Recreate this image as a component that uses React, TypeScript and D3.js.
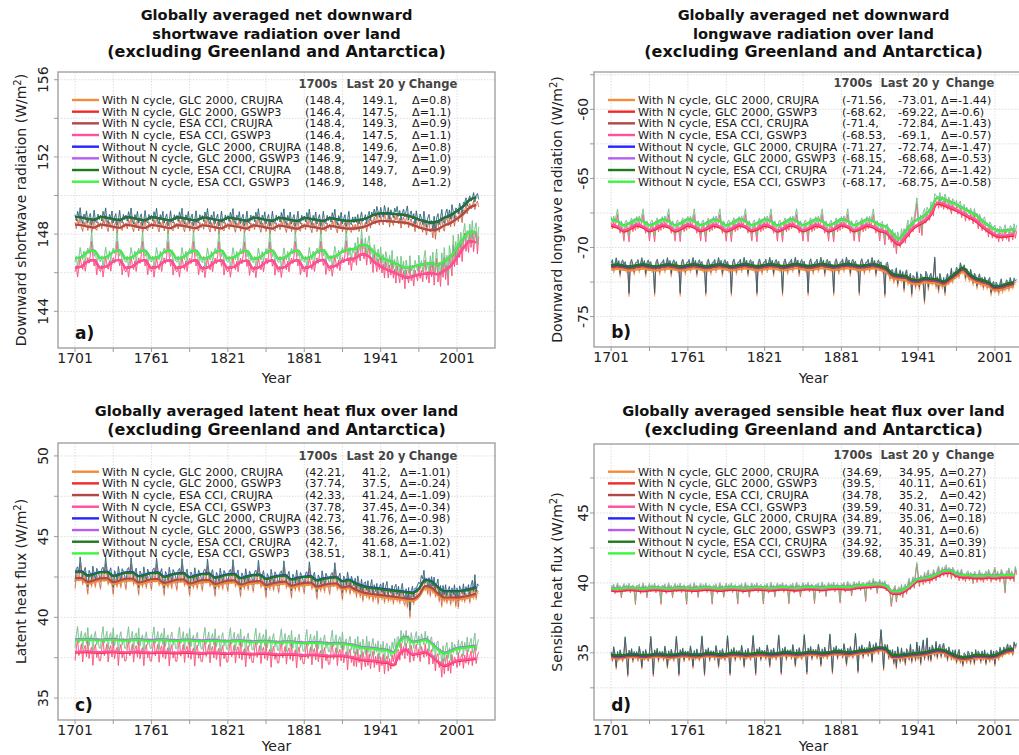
import React from "react";
import * as d3 from "d3";

const W = 1019;
const H = 755;
const FONT = "DejaVu Sans, Liberation Sans, sans-serif";

const runNames = [
  "With N cycle, GLC 2000, CRUJRA",
  "With N cycle, GLC 2000, GSWP3",
  "With N cycle, ESA CCI, CRUJRA",
  "With N cycle, ESA CCI, GSWP3",
  "Without N cycle, GLC 2000, CRUJRA",
  "Without N cycle, GLC 2000, GSWP3",
  "Without N cycle, ESA CCI, CRUJRA",
  "Without N cycle, ESA CCI, GSWP3",
];
const runColors = ["#f28c38", "#ee2a2a", "#b04848", "#ff4f9e", "#2424ff", "#b45ff0", "#1f7a1f", "#3cf53c"];

// Smoothed curves are given every 5 years; annual values span 1701-2018.
const knotYears = d3.range(1701, 2017, 5);
const years = d3.range(1701, 2019);

// ---------- a) net downward shortwave ----------
const swStart = ["148.4", "146.4", "148.4", "146.4", "148.8", "146.9", "148.8", "146.9"];
const swLast20 = ["149.1", "147.5", "149.3", "147.5", "149.6", "147.9", "149.7", "148"];
const swChange = ["0.8", "1.1", "0.9", "1.1", "0.8", "1.0", "0.9", "1.2"];
const swCruTrend = [
  148.90, 148.86, 148.79, 148.74, 148.89, 148.85, 148.78, 148.73, 148.88, 148.84, 148.77, 148.72,
  148.88, 148.83, 148.77, 148.71, 148.87, 148.83, 148.76, 148.71, 148.86, 148.82, 148.75, 148.70,
  148.86, 148.81, 148.75, 148.69, 148.85, 148.81, 148.74, 148.69, 148.84, 148.80, 148.73, 148.68,
  148.84, 148.79, 148.73, 148.68,
  148.83, 148.78, 148.72, 148.68, 148.70, 148.75, 148.85, 149.00, 149.08, 149.08, 149.05, 149.02,
  148.98, 148.88, 148.76, 148.66, 148.60, 148.66, 148.85, 148.98, 149.20, 149.45, 149.78, 149.90,
];
const swGswTrend = [
  146.75, 146.82, 147.08, 147.15, 146.76, 146.83, 147.08, 147.16, 146.74, 146.82, 147.07, 147.15,
  146.75, 146.81, 147.07, 147.14, 146.74, 146.82, 147.06, 147.15, 146.73, 146.80, 147.06, 147.14,
  146.74, 146.81, 147.05, 147.13, 146.72, 146.80, 147.05, 147.14, 146.73, 146.80, 147.06, 147.15,
  146.74, 146.82, 147.07, 147.17,
  146.78, 146.88, 147.10, 147.20, 147.25, 147.45, 147.38, 147.05, 146.82, 146.66, 146.52, 146.38,
  146.25, 146.30, 146.40, 146.45, 146.48, 146.42, 146.60, 146.85, 147.30, 147.78, 148.12, 148.08,
];
// Spin-up years recycle the 1901-1920 climate, so annual departures repeat every 20 years.
const swCruCycle = [0.1, -0.2, 0.3, 0.0, 0.5, -0.1, -0.3, 0.2, 0.0, 0.4, -0.2, 0.1, 0.3, -0.3, 0.0, 0.5, -0.1, -0.2, 0.2, -0.1];
const swGswCycle = [-0.2, 0.1, -0.5, 0.0, 0.5, 0.1, -0.2, 0.2, -0.4, 0.0, 0.2, -0.1, 0.3, 1.0, 0.2, -0.3, 0.1, -0.6, 0.0, -0.2];
const swCruRecent = [
  0.2, -0.1, 0.3, -0.2, 0.1, 0.4, -0.1, 0.0, 0.2, -0.3,
  0.1, 0.3, -0.2, 0.2, 0.0, 0.3, -0.1, 0.4, 0.1, -0.2,
  0.3, 0.0, -0.2, 0.4, 0.1, -0.1, 0.3, -0.3, 0.2, 0.0,
  -0.2, 0.3, 0.1, 0.4, -0.1, 0.2, -0.3, 0.1, 0.3, -0.1,
  0.2, 0.5, -0.2, 0.1, 0.3, -0.1, 0.2, -0.3, 0.4, 0.0,
  -0.1, 0.3, 0.1, -0.2, 0.5, 0.0, -0.3, 0.2, 0.4, -0.1,
  0.1, -0.4, 0.3, -0.5, 0.2, 0.4, -0.2, 0.1, 0.5, -0.1,
  -0.3, 0.2, 0.4, -0.1, 0.3, -0.2, 0.5, 0.1, -0.3, 0.2,
  0.1, -0.2, 0.3, 0.0, -0.4, 0.2, 0.1, 0.3, -0.2, 0.1,
  0.2, -0.1, 0.0, 0.3, -0.2, 0.1, 0.2, -0.1,
];
const swGswRecent = [
  0.3, -0.4, 0.5, 0.0, -0.3, 0.8, 0.1, -0.2, 0.4, -0.5,
  0.2, 0.6, -0.3, 0.1, -0.6, 0.4, 0.0, -0.4, 0.3, -0.2,
  0.5, -0.3, 0.2, -0.5, 0.4, 0.1, -0.4, 0.3, -0.2, 0.6,
  -0.3, 0.2, -0.5, 0.4, 0.0, -0.4, 0.5, -0.2, 0.3, -0.6,
  0.4, 0.0, -0.3, 0.6, -0.2, 0.1, -0.5, 0.3, 0.0, -0.3,
  0.5, -0.2, 0.2, -0.4, 0.3, 0.7, -0.3, 0.1, -0.5, 0.4,
  -0.2, 0.6, -0.6, 0.2, 0.8, -0.4, 0.1, -0.7, 0.5, -0.3,
  0.7, -0.5, 0.2, -0.9, 0.6, 0.1, -0.6, 0.9, -0.3, 0.4,
  -0.4, 0.6, -0.2, 0.5, -0.6, 0.3, 0.7, -0.3, 0.2, -0.5,
  0.4, -0.3, 0.6, -0.5, 0.2, 0.5, -0.6, 0.3,
];

// ---------- b) net downward longwave ----------
const lwStart = ["-71.56", "-68.62", "-71.4", "-68.53", "-71.27", "-68.15", "-71.24", "-68.17"];
const lwLast20 = ["-73.01", "-69.22", "-72.84", "-69.1", "-72.74", "-68.68", "-72.66", "-68.75"];
const lwChange = ["-1.44", "-0.6", "-1.43", "-0.57", "-1.47", "-0.53", "-1.42", "-0.58"];
const lwCruTrend = [
  -71.28, -71.22, -71.30, -71.36, -71.27, -71.21, -71.30, -71.35, -71.27, -71.21, -71.29, -71.35,
  -71.26, -71.20, -71.29, -71.34, -71.26, -71.20, -71.28, -71.34, -71.25, -71.19, -71.28, -71.33,
  -71.25, -71.19, -71.27, -71.33, -71.24, -71.18, -71.27, -71.32, -71.24, -71.18, -71.26, -71.32,
  -71.23, -71.17, -71.26, -71.31,
  -71.25, -71.20, -71.30, -71.45, -71.90, -72.00, -72.05, -72.30, -72.35, -72.20, -72.25, -72.30,
  -72.45, -72.15, -71.80, -71.45, -71.90, -72.20, -72.35, -72.50, -72.80, -72.75, -72.60, -72.50,
];
const lwGswTrend = [
  -67.98, -68.12, -68.40, -68.22, -67.97, -68.12, -68.39, -68.22, -67.98, -68.11, -68.40, -68.21,
  -67.97, -68.12, -68.39, -68.22, -67.98, -68.12, -68.40, -68.21, -67.97, -68.11, -68.39, -68.22,
  -67.98, -68.12, -68.40, -68.22, -67.97, -68.11, -68.39, -68.21, -67.98, -68.12, -68.40, -68.22,
  -67.97, -68.11, -68.39, -68.22,
  -67.98, -68.12, -68.38, -68.50, -69.00, -69.35, -68.85, -68.30, -67.95, -67.70, -67.20, -66.40,
  -66.50, -66.70, -66.90, -67.15, -67.40, -67.65, -68.05, -68.40, -68.70, -68.80, -68.75, -68.70,
];
const lwCruCycle = [0.2, 0.4, -0.3, 0.1, 0.5, 0.0, 0.3, -0.6, 0.2, 0.4, 0.1, 0.3, -0.2, 0.0, -1.9, 0.3, 0.5, 0.1, -0.4, 0.2];
const lwGswCycle = [0.2, -0.2, 0.3, 0.0, 0.4, 0.9, 0.1, -0.3, 0.2, -0.1, -0.7, 0.2, 0.3, -0.2, -0.9, 0.1, 0.3, -0.3, 0.0, -0.3];
const lwCruRecent = [
  0.3, -0.4, 0.2, 0.5, -0.6, 0.1, 0.4, -0.2, 0.3, -0.9,
  0.2, 0.5, -0.3, 0.1, 0.4, -1.0, 0.3, 0.2, -0.4, 0.6,
  0.1, -0.5, 0.4, 0.2, -0.3, -1.6, 0.5, 0.3, -0.6, 0.2,
  0.4, -0.2, 0.3, 1.6, -0.4, 0.2, -0.7, 0.5, 0.1, -0.3,
  0.3, -0.8, 0.2, 0.4, -0.2, 0.1, 0.6, -0.3, 0.2, 0.0,
  0.4, 0.2, -0.3, 0.5, 0.1, -0.2, 0.3, -0.5, 0.2, 0.1,
  -0.3, 0.4, 0.1, -0.4, 0.3, 0.2, -0.5, 0.1, 0.4, -0.2,
  0.2, -0.4, 0.3, 0.1, -0.3, 0.2, 0.4, -0.6, 0.1, 0.3,
  -0.2, 0.3, 0.1, -0.4, 0.2, 0.5, -0.3, 0.1, -0.2, 0.3,
  0.2, -0.3, 0.4, 0.0, -0.2, 0.3, 0.1, 0.2,
];
const lwGswRecent = [
  0.3, -0.5, 0.2, -0.8, 0.4, 0.1, -0.3, 0.5, -0.2, 0.3,
  -0.4, 0.2, 0.6, -0.3, 0.1, 0.5, -0.2, 0.4, 0.9, 1.6,
  0.4, -0.6, 0.2, -0.9, 0.3, 0.5, -0.2, 0.4, 0.1, -0.3,
  0.5, 0.2, -0.4, 0.6, 0.3, 0.1, -0.3, 0.4, -0.2, 0.2,
  -0.3, 0.4, 0.1, -0.2, 0.3, 0.0, -0.4, 0.3, 0.2, -0.1,
  0.3, -0.2, 0.2, 0.4, -0.3, 0.1, 0.3, -0.4, 0.2, 0.0,
  -0.2, 0.3, 0.1, -0.3, 0.4, -0.1, 0.2, -0.4, 0.3, 0.1,
  -0.3, 0.2, 0.4, -0.2, 0.1, -0.4, 0.3, 0.2, -0.3, 0.1,
  0.3, -0.2, 0.1, -0.4, 0.3, 0.2, -0.3, 0.1, 0.4, -0.2,
  0.1, -0.4, 0.3, 0.2, -0.3, 0.4, -0.2, 0.3,
];

// ---------- c) latent heat flux ----------
const leStart = ["42.21", "37.74", "42.33", "37.78", "42.73", "38.56", "42.7", "38.51"];
const leLast20 = ["41.2", "37.5", "41.24", "37.45", "41.76", "38.26", "41.68", "38.1"];
const leChange = ["-1.01", "-0.24", "-1.09", "-0.34", "-0.98", "-0.3", "-1.02", "-0.41"];
const leCruTrend = [
  42.80, 42.82, 42.57, 42.67, 42.78, 42.80, 42.55, 42.65, 42.76, 42.77, 42.53, 42.62,
  42.73, 42.75, 42.50, 42.60, 42.70, 42.72, 42.47, 42.57, 42.67, 42.69, 42.44, 42.54,
  42.64, 42.66, 42.41, 42.51, 42.60, 42.62, 42.37, 42.47, 42.55, 42.58, 42.33, 42.43,
  42.50, 42.52, 42.28, 42.38,
  42.45, 42.47, 42.22, 42.30, 42.10, 41.95, 41.85, 41.80, 41.75, 41.70, 41.65, 41.60,
  41.55, 41.50, 41.75, 42.30, 42.20, 41.85, 41.60, 41.60, 41.60, 41.65, 41.72, 41.85,
];
const leGswTrend = [
  38.58, 38.60, 38.62, 38.58, 38.57, 38.60, 38.61, 38.57, 38.56, 38.59, 38.60, 38.56,
  38.55, 38.58, 38.59, 38.55, 38.54, 38.57, 38.57, 38.53, 38.52, 38.55, 38.55, 38.51,
  38.50, 38.53, 38.53, 38.49, 38.47, 38.50, 38.50, 38.46, 38.43, 38.46, 38.46, 38.42,
  38.39, 38.42, 38.42, 38.38,
  38.35, 38.37, 38.36, 38.30, 38.22, 38.12, 38.08, 38.05, 37.98, 37.95, 37.80, 38.50,
  38.75, 38.45, 38.50, 38.60, 38.35, 38.00, 37.75, 37.90, 38.05, 38.10, 38.15, 38.20,
];
const leCruCycle = [-0.6, 0.2, 0.3, -0.1, 0.9, 0.2, -0.3, 0.1, 0.4, -0.2, -0.7, 0.3, 0.1, -0.3, 0.5, 0.0, -0.4, 0.3, 0.1, -0.2];
const leGswCycle = [-0.5, 0.3, 0.8, -0.2, 0.1, 0.5, -0.6, 0.2, 0.4, -0.3, 0.7, -0.4, 0.1, 0.3, -0.8, 0.2, 0.5, -0.3, 0.1, -0.5];
const leCruRecent = [
  0.3, -0.4, 0.5, 0.1, -0.3, 0.4, -0.5, 0.2, 0.3, -0.2,
  0.4, -0.3, 0.1, 0.5, -0.4, 0.2, -0.2, 0.3, -0.5, 0.1,
  0.3, -0.2, 0.4, -0.4, 0.2, 0.5, -0.3, 0.1, -0.2, 0.3,
  -0.4, 0.2, 0.4, -0.2, 0.3, -0.3, 0.1, 0.5, -0.2, -0.4,
  0.2, -0.5, 0.3, -1.1, 0.1, 0.4, -0.3, 0.2, 0.1, 0.3,
  0.4, 0.2, 0.6, 0.3, 0.7, -0.2, 0.1, -0.4, 0.2, -0.5,
  0.3, -0.2, 0.4, -0.3, 0.1, 0.5, -0.4, 0.2, -0.6, 0.3,
  -0.2, 0.4, -0.3, 0.1, 0.3, -0.4, 0.2, -0.2, 0.4, -0.5,
  0.2, -0.6, 0.3, 0.1, -0.2, 0.4, -0.3, 0.2, -0.1, 0.3,
  -0.4, 0.2, 0.5, -0.2, 0.8, -0.3, 0.2, 0.1,
];
const leGswRecent = [
  0.4, -0.5, 0.6, -0.2, 0.3, -0.6, 0.5, 0.1, -0.4, 0.7,
  -0.3, 0.4, -0.5, 0.2, 0.6, -0.4, 0.3, -0.2, 0.5, -0.6,
  0.3, -0.2, 0.5, -0.7, 0.2, 0.4, -0.5, 0.3, -0.3, 0.6,
  0.2, 0.7, -0.3, 0.5, 0.4, -0.4, 0.6, -0.2, 0.3, -0.5,
  0.4, -0.3, 0.2, -0.6, 0.5, 0.1, -0.4, 0.3, 0.6, -0.2,
  0.3, -0.5, 0.4, 0.1, -0.3, 0.5, -0.2, 0.3, -0.6, 0.2,
  0.4, -0.4, 0.2, -0.7, 0.3, 0.5, -0.3, 0.1, -0.8, 0.4,
  -0.5, 0.3, 0.6, -0.4, 0.2, -0.6, 0.5, -0.2, 0.3, 0.1,
  -0.4, 0.5, -0.3, 0.2, 0.4, -0.5, 0.3, -0.2, 0.6, -0.3,
  0.2, 0.5, -0.4, 0.3, 0.8, -0.3, 0.2, 0.4,
];

// ---------- d) sensible heat flux ----------
const shStart = ["34.69", "39.5", "34.78", "39.59", "34.89", "39.71", "34.92", "39.68"];
const shLast20 = ["34.95", "40.11", "35.2", "40.31", "35.06", "40.31", "35.31", "40.49"];
const shChange = ["0.27", "0.61", "0.42", "0.72", "0.18", "0.6", "0.39", "0.81"];
const shCruTrend = [
  34.88, 34.82, 34.85, 34.92, 34.90, 34.84, 34.87, 34.94, 34.92, 34.86, 34.89, 34.96,
  34.94, 34.88, 34.91, 34.98, 34.96, 34.90, 34.93, 35.00, 34.98, 34.92, 34.95, 35.02,
  35.00, 34.94, 34.98, 35.05, 35.03, 34.97, 35.01, 35.08, 35.06, 35.00, 35.05, 35.12,
  35.10, 35.04, 35.10, 35.18,
  35.20, 35.30, 35.40, 35.30, 34.85, 34.85, 34.90, 34.95, 35.00, 35.05, 35.15, 35.25,
  35.20, 35.00, 34.80, 34.70, 34.75, 34.85, 34.85, 34.80, 34.85, 35.05, 35.25, 35.30,
];
const shGswTrend = [
  39.62, 39.58, 39.63, 39.66, 39.62, 39.58, 39.64, 39.66, 39.63, 39.59, 39.64, 39.67,
  39.63, 39.60, 39.65, 39.68, 39.64, 39.60, 39.66, 39.68, 39.65, 39.61, 39.67, 39.69,
  39.66, 39.62, 39.68, 39.70, 39.67, 39.63, 39.69, 39.72, 39.69, 39.65, 39.71, 39.74,
  39.73, 39.70, 39.77, 39.82,
  39.85, 39.90, 39.92, 39.80, 39.40, 39.40, 39.60, 39.95, 40.30, 40.35, 40.45, 40.65,
  40.85, 40.90, 40.65, 40.55, 40.55, 40.50, 40.50, 40.55, 40.50, 40.55, 40.55, 40.55,
];
const shCruCycle = [0.2, -0.3, 0.6, 0.1, -0.8, 0.3, -0.2, 0.4, 0.0, -0.3, 0.2, 1.3, 0.1, -1.4, 0.3, -0.1, 0.4, -0.4, 0.2, -0.1];
const shGswCycle = [0.2, 0.1, 0.3, -0.2, 0.1, 0.4, 0.0, 0.2, -0.5, 0.1, 0.3, -0.1, 0.2, 0.0, 0.3, -0.2, 0.1, 0.2, -0.1, -1.0];
const shCruRecent = [
  0.4, -0.5, 0.3, -0.8, 0.6, 0.1, -0.4, 0.5, -0.3, 0.2,
  -0.6, 0.4, 0.2, -0.3, 0.7, -0.5, 0.3, 0.1, -0.4, 0.8,
  -0.3, 0.5, -0.7, 0.3, 0.9, -0.4, 0.2, 1.0, -0.5, 0.3,
  -0.6, 0.4, 0.1, -0.3, 0.6, -0.5, 0.2, 0.4, -0.4, 0.3,
  0.5, -0.3, 0.2, -0.5, 0.4, 0.1, -0.3, 0.3, -0.2, 0.4,
  -0.4, 0.2, 0.5, -0.3, 0.1, -0.5, 0.3, 0.2, -0.3, 0.4,
  0.2, -0.4, 0.3, 0.1, -0.5, 0.4, -0.2, 0.3, 0.1, -0.4,
  0.3, -0.2, 0.4, -0.5, 0.2, 0.1, -0.3, 0.4, -0.2, 0.3,
  -0.6, 0.3, 0.2, -0.3, 0.4, 0.1, -0.2, 0.3, -0.1, 0.2,
  0.4, -0.2, 0.3, 0.1, -0.3, 0.5, 0.2, 0.4,
];
const shGswRecent = [
  -0.3, 0.2, 0.4, -0.6, 0.1, 0.3, -0.2, 0.4, -0.4, 0.2,
  0.3, -0.3, 0.2, 0.5, -0.2, 0.1, 0.4, -0.3, 0.6, 1.2,
  0.3, -0.4, 0.2, 0.1, -0.3, 0.4, -0.2, 0.3, 0.5, -0.3,
  0.2, -0.2, 0.4, 0.1, -0.3, 0.3, 0.5, -0.2, 0.1, 0.3,
  -0.2, 0.3, 0.4, -0.3, 0.2, 0.1, -0.4, 0.3, 0.2, -0.2,
  0.1, 0.3, -0.3, 0.2, 0.4, -0.2, 0.1, -0.3, 0.2, 0.3,
  -0.2, 0.2, 0.1, -0.4, 0.3, 0.2, -0.3, 0.1, 0.4, -0.2,
  0.2, -0.3, 0.1, 0.3, -0.2, 0.4, 0.2, -0.3, 0.1, 0.3,
  0.6, -0.2, 0.3, 0.1, -0.3, 0.4, 0.2, -0.2, -1.1, 0.3,
  0.2, 0.5, -0.2, 0.3, 0.1, -0.3, 0.6, 0.2,
];

type Cluster = { trend: number[]; cycle: number[]; recent: number[] };

type PanelSpec = {
  key: string;
  letter: string;
  title: string[];
  titleY: number;
  yLabel: string;
  left: number;
  right: number;
  top: number;
  bottom: number;
  xLabelY: number;
  yDomain: [number, number];
  gridStep: number;
  labelTicks: number[];
  tickLabelX: number;
  yLabelX: number;
  legend: { headerY: number; rowY: number; sampleX: number; cols: number[]; heads: number[] };
  cru: Cluster;
  gsw: Cluster;
  start: string[];
  last20: string[];
  change: string[];
};

const panels: PanelSpec[] = [
  {
    key: "sw", letter: "a)",
    title: ["Globally averaged net downward", "shortwave radiation over land", "(excluding Greenland and Antarctica)"],
    titleY: 20, yLabel: "Downward shortwave radiation",
    left: 58, right: 495, top: 72, bottom: 348, xLabelY: 383,
    yDomain: [142.1, 156.4], gridStep: 2, labelTicks: [144, 148, 152, 156],
    tickLabelX: 43, yLabelX: 21,
    legend: { headerY: 84, rowY: 100, sampleX: 72, cols: [305, 362, 412], heads: [318, 376, 433] },
    cru: { trend: swCruTrend, cycle: swCruCycle, recent: swCruRecent },
    gsw: { trend: swGswTrend, cycle: swGswCycle, recent: swGswRecent },
    start: swStart, last20: swLast20, change: swChange,
  },
  {
    key: "lw", letter: "b)",
    title: ["Globally averaged net downward", "longwave radiation over land", "(excluding Greenland and Antarctica)"],
    titleY: 20, yLabel: "Downward longwave radiation",
    left: 594, right: 1033, top: 72, bottom: 347, xLabelY: 383,
    yDomain: [-77.2, -57.3], gridStep: 2.5, labelTicks: [-75, -70, -65, -60],
    tickLabelX: 583, yLabelX: 557,
    legend: { headerY: 83, rowY: 100, sampleX: 608, cols: [842, 898, 941], heads: [853, 910, 970] },
    cru: { trend: lwCruTrend, cycle: lwCruCycle, recent: lwCruRecent },
    gsw: { trend: lwGswTrend, cycle: lwGswCycle, recent: lwGswRecent },
    start: lwStart, last20: lwLast20, change: lwChange,
  },
  {
    key: "le", letter: "c)",
    title: ["Globally averaged latent heat flux over land", "(excluding Greenland and Antarctica)"],
    titleY: 416, yLabel: "Latent heat flux",
    left: 58, right: 495, top: 443, bottom: 720, xLabelY: 751,
    yDomain: [33.64, 50.8], gridStep: 2.5, labelTicks: [35, 40, 45, 50],
    tickLabelX: 43, yLabelX: 21,
    legend: { headerY: 456, rowY: 471.7, sampleX: 72, cols: [305, 362, 400], heads: [318, 376, 433] },
    cru: { trend: leCruTrend, cycle: leCruCycle, recent: leCruRecent },
    gsw: { trend: leGswTrend, cycle: leGswCycle, recent: leGswRecent },
    start: leStart, last20: leLast20, change: leChange,
  },
  {
    key: "sh", letter: "d)",
    title: ["Globally averaged sensible heat flux over land", "(excluding Greenland and Antarctica)"],
    titleY: 416, yLabel: "Sensible heat flux",
    left: 594, right: 1033, top: 444, bottom: 720, xLabelY: 751,
    yDomain: [30.2, 49.93], gridStep: 2.5, labelTicks: [35, 40, 45],
    tickLabelX: 583, yLabelX: 557,
    legend: { headerY: 455, rowY: 471.7, sampleX: 608, cols: [842, 899, 940], heads: [853, 910, 970] },
    cru: { trend: shCruTrend, cycle: shCruCycle, recent: shCruRecent },
    gsw: { trend: shGswTrend, cycle: shGswCycle, recent: shGswRecent },
    start: shStart, last20: shLast20, change: shChange,
  },
];

const ROW_STEP = 11.67;

function annualValues(cl: Cluster): number[] {
  const base = d3.scaleLinear<number, number>().domain(knotYears).range(cl.trend).clamp(true);
  return years.map((yr) => {
    const dep = yr <= 1920 ? cl.cycle[(yr - 1701) % 20] : cl.recent[yr - 1921];
    return base(yr) + dep;
  });
}

function Panel({ p }: { p: PanelSpec }) {
  const x = d3.scaleLinear().domain([1687.6, 2030.8]).range([p.left, p.right]);
  const y = d3.scaleLinear().domain(p.yDomain).range([p.bottom, p.top]);
  const cx = (p.left + p.right) / 2;
  const cy = (p.top + p.bottom) / 2;

  const gridYs = d3
    .range(Math.ceil(p.yDomain[0] / p.gridStep) * p.gridStep, p.yDomain[1], p.gridStep)
    .map((v) => Math.round(v * 100) / 100);
  const gridXs = d3.range(1701, 2031, 30);
  const labelXs = d3.range(1701, 2031, 60);

  const cruAnnual = annualValues(p.cru);
  const gswAnnual = annualValues(p.gsw);

  const thin = d3.line<number>().x((_, j) => x(years[j])).y((v) => y(v));
  const thick = d3
    .line<number>()
    .x((_, j) => x(knotYears[j]))
    .y((v) => y(v))
    .curve(d3.curveMonotoneX);

  const runs = runNames.map((_, i) => {
    const isCru = i % 2 === 0;
    const ref = isCru ? 6 : 7;
    const off = +p.start[i] - +p.start[ref];
    const annual = (isCru ? cruAnnual : gswAnnual).map((v) => v + off);
    const smooth = (isCru ? p.cru.trend : p.gsw.trend).map((v) => v + off);
    return { i, annual, smooth };
  });

  const clipId = `clip-${p.key}`;
  const lg = p.legend;

  return (
    <g>
      <defs>
        <clipPath id={clipId}>
          <rect x={p.left} y={p.top} width={p.right - p.left} height={p.bottom - p.top} />
        </clipPath>
      </defs>

      {/* title: the bracketed line is set a little larger */}
      {p.title.map((t, k) => (
        <text
          key={k}
          x={cx}
          y={p.titleY + k * 18.5}
          textAnchor="middle"
          fontWeight="bold"
          fontSize={t.startsWith("(") ? 16 : 14.6}
          fill="#111"
        >
          {t}
        </text>
      ))}

      {/* grid */}
      <g stroke="#d6d6d6" strokeWidth={0.8} strokeDasharray="1.5,1.5">
        {gridXs.map((g) => (
          <line key={`gx${g}`} x1={x(g)} x2={x(g)} y1={p.top} y2={p.bottom} />
        ))}
        {gridYs.map((g) => (
          <line key={`gy${g}`} x1={p.left} x2={p.right} y1={y(g)} y2={y(g)} />
        ))}
      </g>

      {/* annual lines, then smoothed lines on top */}
      <g clipPath={`url(#${clipId})`} fill="none">
        {runs.map((r) => (
          <path key={`t${r.i}`} d={thin(r.annual) || ""} stroke={runColors[r.i]} strokeWidth={0.9} strokeOpacity={0.6} />
        ))}
        {runs.map((r) => (
          <path key={`s${r.i}`} d={thick(r.smooth) || ""} stroke={runColors[r.i]} strokeWidth={2.2} strokeLinejoin="round" />
        ))}
      </g>

      {/* frame */}
      <rect x={p.left} y={p.top} width={p.right - p.left} height={p.bottom - p.top} fill="none" stroke="#9a9a9a" strokeWidth={1.3} />

      {/* axis ticks */}
      <g stroke="#9a9a9a" strokeWidth={1}>
        {gridXs.map((g) => (
          <line key={`tx${g}`} x1={x(g)} x2={x(g)} y1={p.bottom} y2={p.bottom + 4} />
        ))}
        {gridYs.map((g) => (
          <line key={`ty${g}`} x1={p.left - 4} x2={p.left} y1={y(g)} y2={y(g)} />
        ))}
      </g>
      {labelXs.map((g) => (
        <text key={`lx${g}`} x={x(g)} y={p.bottom + 15} textAnchor="middle" fontSize={14} fill="#222">
          {g}
        </text>
      ))}
      <text x={cx} y={p.xLabelY} textAnchor="middle" fontSize={14} fill="#222">
        Year
      </text>

      {p.labelTicks.map((t) => (
        <text
          key={`ly${t}`}
          transform={`translate(${p.tickLabelX},${y(t)}) rotate(-90)`}
          textAnchor="middle"
          dy="0.35em"
          fontSize={14}
          fill="#222"
        >
          {t}
        </text>
      ))}
      <text transform={`translate(${p.yLabelX},${cy}) rotate(-90)`} textAnchor="middle" dy="0.35em" fontSize={14} fill="#222">
        {p.yLabel} (W/m
        <tspan dy="-5" fontSize={10}>2</tspan>
        <tspan dy="5">)</tspan>
      </text>

      {/* panel letter */}
      <text x={x(1701)} y={p.bottom - 9} fontWeight="bold" fontSize={17} fill="#111">
        {p.letter}
      </text>

      {/* legend */}
      <g fontSize={11.5} fontWeight="bold" fill="#444" textAnchor="middle">
        <text x={lg.heads[0]} y={lg.headerY} dy="0.35em">1700s</text>
        <text x={lg.heads[1]} y={lg.headerY} dy="0.35em">Last 20 y</text>
        <text x={lg.heads[2]} y={lg.headerY} dy="0.35em">Change</text>
      </g>
      <g fontSize={11.2} fill="#1a1a1a">
        {runNames.map((name, i) => {
          const ry = lg.rowY + i * ROW_STEP;
          return (
            <g key={`lg${i}`}>
              <line x1={lg.sampleX} x2={lg.sampleX + 27} y1={ry} y2={ry} stroke={runColors[i]} strokeWidth={2.4} />
              <text x={lg.sampleX + 30} y={ry} dy="0.35em">{name}</text>
              <text x={lg.cols[0]} y={ry} dy="0.35em">{`(${p.start[i]},`}</text>
              <text x={lg.cols[1]} y={ry} dy="0.35em">{`${p.last20[i]},`}</text>
              <text x={lg.cols[2]} y={ry} dy="0.35em">{`Δ=${p.change[i]})`}</text>
            </g>
          );
        })}
      </g>
    </g>
  );
}

export default function App() {
  return (
    <svg
      width={W}
      height={H}
      viewBox={`0 0 ${W} ${H}`}
      style={{ position: "absolute", left: 0, top: 0, background: "#fff" }}
      fontFamily={FONT}
    >
      <rect width={W} height={H} fill="#fff" />
      {panels.map((p) => (
        <Panel key={p.key} p={p} />
      ))}
    </svg>
  );
}
